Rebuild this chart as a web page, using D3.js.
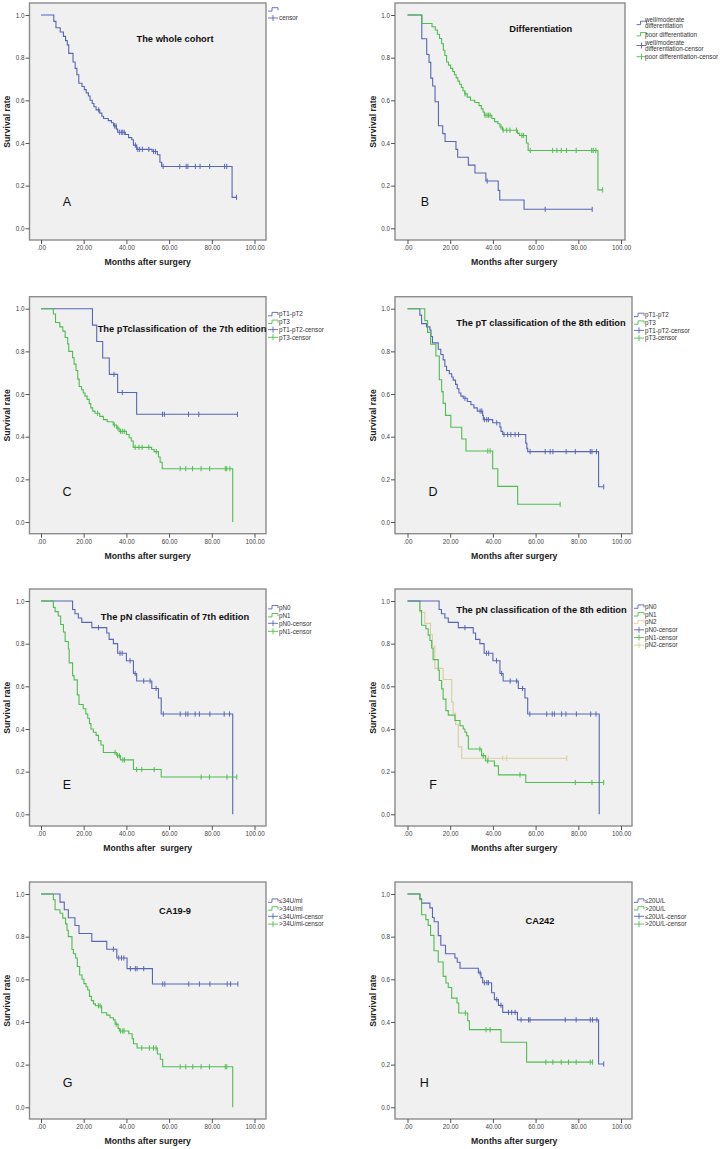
<!DOCTYPE html>
<html><head><meta charset="utf-8">
<script src="https://cdn.jsdelivr.net/npm/d3@7"></script>
<style>
body{margin:0;background:#fff}
svg{display:block}
text{font-family:"Liberation Sans",Arial,sans-serif}
</style>
</head><body>
<svg id="chart" width="721" height="1149"></svg>
<script>
// ---------- axis ticks ----------
const monthTicks = [0, 20, 40, 60, 80, 100];
const monthTickLabels = ['.00', '20.00', '40.00', '60.00', '80.00', '100.00'];
const rateTicks = [0, 0.2, 0.4, 0.6, 0.8, 1.0];
const rateTickLabels = ['0.0', '0.2', '0.4', '0.6', '0.8', '1.0'];

// ---------- panel texts ----------
const panelTitles = ['The whole cohort', 'Differentiation', 'The pTclassification of  the 7th edition',
  'The pT classification of the 8th edition', 'The pN classificatin of 7th edition',
  'The pN classification of the 8th edition', 'CA19-9', 'CA242'];
const panelLetters = ['A', 'B', 'C', 'D', 'E', 'F', 'G', 'H'];
const xTitles = ['Months after surgery', 'Months after surgery', 'Months after surgery', 'Months after surgery',
  'Months after  surgery', 'Months after surgery', 'Months after surgery', 'Months after surgery'];
const yTitle = 'Survival rate';

// ---------- data: steps = [month, survival after drop], censors = months ----------
// A whole cohort
const wholeSteps = [[6,0.97],[7,0.94],[9,0.92],[10.5,0.90],[11.5,0.88],[12.3,0.86],[13,0.82],[15,0.78],[16,0.75],[16.8,0.72],[17.7,0.68],[19.2,0.665],[20.3,0.65],[21.2,0.635],[22.2,0.62],[23,0.60],[24,0.585],[24.8,0.57],[25.8,0.555],[27.5,0.54],[28.5,0.525],[29.3,0.515],[31.5,0.505],[33,0.495],[34,0.48],[35.3,0.465],[35.9,0.45],[39.5,0.44],[41,0.425],[42.5,0.415],[43.3,0.39],[44.8,0.37],[52,0.36],[54.5,0.345],[55.7,0.31],[56.5,0.29],[89.5,0.145]];
const wholeCensors = [27,34.5,35.2,36.7,37.6,38.3,39,44.2,45.3,46.2,47.5,50.5,52.7,53.6,57.2,65,68,68.8,72.3,74.5,79,86,87,91.6];
// B differentiation
const diffWellSteps = [[6.7,0.889],[9,0.815],[10.1,0.778],[10.9,0.704],[11.8,0.667],[12.9,0.593],[14.5,0.481],[16.5,0.444],[17.6,0.407],[22.7,0.370],[23.5,0.333],[28.5,0.296],[31.6,0.259],[36.7,0.222],[42.5,0.178],[43.2,0.133],[54.6,0.089]];
const diffWellCensors = [37.3,64.5,86.5];
const diffPoorSteps = [[6.7,0.96],[11.5,0.945],[13,0.93],[14,0.91],[15,0.89],[16,0.865],[16.8,0.835],[17.5,0.81],[18.3,0.78],[19.2,0.765],[20.2,0.75],[21.2,0.735],[22,0.72],[22.8,0.705],[23.6,0.69],[24.4,0.675],[25.2,0.66],[26,0.645],[26.8,0.63],[28,0.615],[29.5,0.60],[31.5,0.59],[33.5,0.575],[34.6,0.56],[35.4,0.545],[36,0.53],[39.5,0.515],[40.8,0.50],[42.3,0.49],[43.3,0.475],[44.5,0.46],[51.5,0.445],[52.5,0.435],[55.7,0.40],[56.5,0.365],[89.2,0.18]];
const diffPoorCensors = [27,36.3,37.2,37.9,38.7,43.8,44.8,46.5,48,51,53.5,54.3,57.5,68,70,72,74.5,79,86.3,87,88.2,91.4];
// C pT 7th
const pT7lowSteps = [[24.1,0.923],[26.1,0.846],[28.9,0.769],[32,0.692],[35.9,0.607],[44.8,0.505]];
const pT7lowCensors = [34.2,38.1,56.9,57.8,69.1,73.9,92];
const pT7highSteps = [[5.8,0.975],[6.8,0.935],[8.8,0.915],[10.2,0.895],[11.3,0.865],[12.5,0.835],[13,0.80],[14.8,0.77],[15.5,0.74],[16.4,0.71],[17.2,0.67],[17.9,0.635],[19,0.62],[19.8,0.605],[20.6,0.59],[21.6,0.575],[22.6,0.555],[23.3,0.535],[24.2,0.52],[25.3,0.51],[27.5,0.495],[29.2,0.48],[31,0.47],[33.8,0.455],[35.4,0.44],[36.6,0.425],[40,0.41],[41.3,0.395],[42.3,0.38],[43.2,0.35],[51.8,0.34],[53,0.33],[55,0.305],[55.8,0.28],[56.8,0.25],[89.8,0]];
const pT7highCensors = [26.5,34.4,36,37.2,38.1,39,44.1,45.9,47.4,50.5,54,65.2,67.8,71,75,79,86.3,87,88.5];
// D pT 8th
const pT8lowSteps = [[5.8,0.97],[6.6,0.93],[8.9,0.915],[10.5,0.90],[11,0.87],[11.7,0.84],[14.4,0.81],[15.6,0.785],[16.7,0.76],[17.5,0.73],[18.3,0.71],[19.6,0.695],[20.7,0.68],[21.4,0.665],[22.5,0.645],[23.3,0.625],[24.1,0.605],[25,0.59],[26.1,0.58],[28,0.565],[29.7,0.55],[31.1,0.535],[32.7,0.52],[35.2,0.50],[35.5,0.48],[39.9,0.465],[43.3,0.445],[43.8,0.425],[44.6,0.41],[55.4,0.37],[55.9,0.345],[56.3,0.33],[89.5,0.165]];
const pT8lowCensors = [26.9,34,34.8,36,37.1,37.9,41.8,45.2,46.9,48.4,50.4,52,57.4,64.5,66.8,68.1,74.3,78.6,85.6,86.4,88.5,91.9];
const pT8highSteps = [[8.1,0.944],[9.4,0.889],[10.8,0.833],[13.3,0.778],[14.9,0.667],[16,0.611],[16.7,0.556],[17.8,0.50],[20.3,0.444],[25.4,0.389],[27.4,0.333],[39.9,0.25],[42.3,0.167],[51.6,0.083]];
const pT8highCensors = [37.6,38.7,71.5];
// E / F pN
const pN0Steps = [[14.8,0.96],[15.9,0.94],[17.5,0.92],[19.1,0.90],[23.8,0.875],[30.8,0.85],[31.9,0.82],[33.9,0.80],[35.9,0.755],[40,0.72],[43.3,0.66],[44.8,0.625],[51.9,0.59],[55,0.545],[56.3,0.47],[89.8,0]];
const pN0Censors = [26.9,37,38,41.7,44.1,48.1,51.1,53.9,57.3,65.2,67.8,68.8,72.2,74.2,79.1,85.8,88.3];
const pN1of7Steps = [[5.8,0.97],[6.6,0.95],[8.1,0.93],[9.2,0.89],[10.5,0.855],[11.3,0.81],[12.8,0.775],[13.2,0.71],[14.8,0.65],[15.5,0.63],[17,0.56],[17.8,0.515],[19.8,0.495],[21,0.47],[21.9,0.45],[22.7,0.425],[23.4,0.40],[24.5,0.385],[25.8,0.37],[26.9,0.345],[28.1,0.325],[29.2,0.29],[35.5,0.275],[37.2,0.255],[43.3,0.21],[56.3,0.175]];
const pN1of7Censors = [34.7,35.9,36.7,38.3,39.1,44.8,47.2,53,75,78.9,87.1,91.7];
const pN1of8Steps = [[5.8,0.955],[6.6,0.886],[8.6,0.87],[9.7,0.84],[10.5,0.815],[11.3,0.78],[12,0.725],[14.4,0.675],[14.9,0.627],[16,0.588],[16.7,0.54],[18,0.486],[19.1,0.465],[22.2,0.44],[24.6,0.415],[26.1,0.40],[26.9,0.385],[27.7,0.368],[28.5,0.306],[34.7,0.275],[36.6,0.25],[40.7,0.227],[42.6,0.185],[55.4,0.149]];
const pN1of8Censors = [33.9,35.5,37.6,52.7,78.6,86.4,91.9];
const pN2Steps = [[5.8,0.947],[8.1,0.895],[10.8,0.842],[11.7,0.789],[12.8,0.684],[16.7,0.632],[20.7,0.526],[21.4,0.474],[22.5,0.421],[23.8,0.316],[25.4,0.263]];
const pN2Censors = [37.9,44.6,46.5,74.6];
// G CA19-9
const ca199lowSteps = [[8.9,0.962],[10.9,0.926],[12.8,0.889],[15.9,0.852],[17.8,0.815],[23.8,0.778],[30.8,0.741],[35.5,0.70],[40.3,0.65],[52.2,0.578]];
const ca199lowCensors = [33.9,36.4,37.7,38.8,41.9,44.2,45,48.1,57,58,69.2,74.2,79.1,87.2,88.8,92.2];
const ca199highSteps = [[5.8,0.973],[6.6,0.926],[8.9,0.91],[10.2,0.887],[11.5,0.86],[12.2,0.83],[12.8,0.80],[14.5,0.74],[15.2,0.72],[16.2,0.70],[17,0.66],[18.1,0.62],[19.2,0.60],[20.1,0.58],[21.1,0.565],[21.9,0.55],[22.7,0.52],[23.6,0.50],[24.6,0.485],[25.5,0.476],[28.4,0.443],[30.8,0.432],[32.3,0.42],[33.9,0.41],[34.7,0.39],[36.1,0.37],[36.7,0.358],[41.1,0.345],[42.7,0.322],[43.3,0.298],[45,0.278],[54.5,0.25],[55.9,0.225],[57,0.19],[89.8,0]];
const ca199highCensors = [26.9,27.7,35.2,37.3,38.3,38.9,47.2,50.8,52.7,53.9,65.2,67.8,71.1,75,78.9,86.3,87];
// H CA242
const ca242lowSteps = [[5.8,0.977],[6.6,0.957],[10.5,0.935],[11.7,0.89],[12.5,0.87],[14.4,0.805],[15.6,0.76],[17.8,0.72],[22.2,0.70],[23.3,0.68],[24.6,0.652],[33.2,0.63],[34.4,0.608],[35.2,0.584],[39.4,0.537],[40.7,0.505],[42.6,0.478],[44.6,0.445],[51.5,0.41],[89.5,0.203]];
const ca242lowCensors = [34,36,37.2,37.9,41.8,43.8,47.3,48.8,50.4,53.2,56.7,57.4,73.9,79,85.6,86.7,88.7,91.9];
const ca242highSteps = [[5.8,0.973],[6.6,0.903],[8.6,0.88],[9.7,0.853],[10.8,0.806],[12.4,0.734],[14.4,0.681],[16.7,0.614],[18,0.583],[19.1,0.562],[20.7,0.512],[23.2,0.489],[24,0.442],[28.2,0.406],[29,0.364],[43.8,0.305],[55.8,0.212]];
const ca242highCensors = [27.1,36.8,38.7,64.8,68.1,72,75.4,79,85.6,86.7];

// ---------- legend labels ----------
const legendA = [[''], ['censor']];
const legendB = [['well/moderate','differentiation'], ['poor differentiation'], ['well/moderate','differentiation-censor'], ['poor differentiation-censor']];
const legendC = [['pT1-pT2'], ['pT3'], ['pT1-pT2-censor'], ['pT3-censor']];
const legendE = [['pN0'], ['pN1'], ['pN0-censor'], ['pN1-censor']];
const legendF = [['pN0'], ['pN1'], ['pN2'], ['pN0-censor'], ['pN1-censor'], ['pN2-censor']];
const legendG = [['≤34U/ml'], ['>34U/ml'], ['≤34U/ml-censor'], ['>34U/ml-censor']];
const legendH = [['≤20U/L'], ['>20U/L'], ['≤20U/L-censor'], ['>20U/L-censor']];

// ---------- styling / layout ----------
const BLUE = '#5766b6', GREEN = '#4fbd50', TAN = '#dccd9e';
const LEFT = {bx0: 29.5, bx1: 266, x0: 41, x1: 254.5, yt: 7, icon: 268, txt: 279};
const RIGHT = {bx0: 395, bx1: 632, x0: 407.5, x1: 621, yt: 373, icon: 634, txt: 645};
const rowTop = [3, 296.7, 589, 882];

const panels = [
  {col: LEFT, row: 0, tp: [175, 42.3], lp: [67, 205.5],
   series: [{s: wholeSteps, c: wholeCensors, col: BLUE}],
   legend: {lab: legendA, types: ['step','censor'], cols: [BLUE, BLUE], y0: 6.5, dy: 8.5}},
  {col: Object.assign({}, RIGHT, {bx1: 625, icon: 636.5}), row: 0, tp: [540.8, 32.3], lp: [425, 205.5],
   series: [{s: diffWellSteps, c: diffWellCensors, col: BLUE}, {s: diffPoorSteps, c: diffPoorCensors, col: GREEN}],
   legend: {lab: legendB, types: ['step','step','censor','censor'], cols: [BLUE, GREEN, BLUE, GREEN], ys: [23, 34.3, 45.5, 56.7]}},
  {col: LEFT, row: 1, tp: [182, 331.5], lp: [67, 496],
   series: [{s: pT7lowSteps, c: pT7lowCensors, col: BLUE}, {s: pT7highSteps, c: pT7highCensors, col: GREEN}],
   legend: {lab: legendC, types: ['step','step','censor','censor'], cols: [BLUE, GREEN, BLUE, GREEN], y0: 17.5, dy: 7.7}},
  {col: RIGHT, row: 1, tp: [541, 326], lp: [433, 496],
   series: [{s: pT8lowSteps, c: pT8lowCensors, col: BLUE}, {s: pT8highSteps, c: pT8highCensors, col: GREEN}],
   legend: {lab: legendC, types: ['step','step','censor','censor'], cols: [BLUE, GREEN, BLUE, GREEN], y0: 18.3, dy: 7.7}},
  {col: LEFT, row: 2, tp: [175, 620], lp: [67, 788.6],
   series: [{s: pN0Steps, c: pN0Censors, col: BLUE}, {s: pN1of7Steps, c: pN1of7Censors, col: GREEN}],
   legend: {lab: legendE, types: ['step','step','censor','censor'], cols: [BLUE, GREEN, BLUE, GREEN], y0: 18.3, dy: 8}},
  {col: RIGHT, row: 2, tp: [541.5, 613.3], lp: [433, 788.6],
   series: [{s: pN2Steps, c: pN2Censors, col: TAN}, {s: pN1of8Steps, c: pN1of8Censors, col: GREEN}, {s: pN0Steps, c: pN0Censors, col: BLUE}],
   legend: {lab: legendF, types: ['step','step','step','censor','censor','censor'], cols: [BLUE, GREEN, TAN, BLUE, GREEN, TAN], y0: 17.7, dy: 7.7}},
  {col: LEFT, row: 3, tp: [175, 914], lp: [67.7, 1087],
   series: [{s: ca199lowSteps, c: ca199lowCensors, col: BLUE}, {s: ca199highSteps, c: ca199highCensors, col: GREEN}],
   legend: {lab: legendG, types: ['step','step','censor','censor'], cols: [BLUE, GREEN, BLUE, GREEN], y0: 18.7, dy: 7.8}},
  {col: RIGHT, row: 3, tp: [540, 924.3], lp: [424.3, 1087],
   series: [{s: ca242lowSteps, c: ca242lowCensors, col: BLUE}, {s: ca242highSteps, c: ca242highCensors, col: GREEN}],
   legend: {lab: legendH, types: ['step','step','censor','censor'], cols: [BLUE, GREEN, BLUE, GREEN], y0: 18.7, dy: 7.8}}
];

const svg = d3.select('#chart');

function survAt(steps, t) {
  let v = 1;
  for (const [st, sv] of steps) { if (st <= t) v = sv; }
  return v;
}

panels.forEach((p, i) => {
  const C = p.col;
  const T = rowTop[p.row];
  const yTop1 = T + 12, yZero = T + 225.3, bottom = T + 237;
  const x = d3.scaleLinear().domain([0, 100]).range([C.x0, C.x1]);
  const y = d3.scaleLinear().domain([0, 1]).range([yZero, yTop1]);
  const g = svg.append('g');

  g.append('rect').attr('x', C.bx0).attr('y', T).attr('width', C.bx1 - C.bx0).attr('height', bottom - T)
    .attr('fill', '#f0f0f0').attr('stroke', '#8c8c8c').attr('stroke-width', 1.4);

  const ya = g.append('g').attr('transform', `translate(${C.bx0},0)`)
    .call(d3.axisLeft(y).tickValues(rateTicks).tickFormat((d, k) => rateTickLabels[k]).tickSize(4).tickPadding(1));
  const xa = g.append('g').attr('transform', `translate(0,${bottom})`)
    .call(d3.axisBottom(x).tickValues(monthTicks).tickFormat((d, k) => monthTickLabels[k]).tickSize(4).tickPadding(2));
  [ya, xa].forEach(a => {
    a.select('.domain').remove();
    a.selectAll('line').attr('stroke', '#555');
    a.selectAll('text').attr('font-size', 6.3).attr('fill', '#444')
      .attr('font-family', '"Liberation Sans",Arial,sans-serif');
  });

  // titles
  g.append('text').attr('x', (C.x0 + C.x1) / 2).attr('y', bottom + 25).attr('text-anchor', 'middle')
    .attr('font-size', 8.7).attr('font-weight', 'bold').attr('fill', '#222').style('white-space', 'pre').text(xTitles[i]);
  g.append('text').attr('transform', `translate(${C.yt + 3},${(yTop1 + yZero) / 2}) rotate(-90)`).attr('text-anchor', 'middle')
    .attr('font-size', 8.7).attr('font-weight', 'bold').attr('fill', '#222').text(yTitle);
  g.append('text').attr('x', p.tp[0]).attr('y', p.tp[1]).attr('text-anchor', 'middle')
    .attr('font-size', 9.3).attr('font-weight', 'bold').attr('fill', '#111').style('white-space', 'pre').text(panelTitles[i]);
  g.append('text').attr('x', p.lp[0]).attr('y', p.lp[1]).attr('text-anchor', 'middle')
    .attr('font-size', 12.5).attr('font-family', '"Open Sans",sans-serif').attr('fill', '#111').text(panelLetters[i]);

  // curves
  const line = d3.line().x(d => x(d[0])).y(d => y(d[1])).curve(d3.curveStepAfter);
  p.series.forEach(se => {
    const last = se.s[se.s.length - 1];
    const endT = Math.max(last[0], d3.max(se.c) || 0);
    const pts = [[0, 1], ...se.s, [endT, last[1]]];
    g.append('path').attr('d', line(pts)).attr('fill', 'none').attr('stroke', se.col).attr('stroke-width', 1.1);
    g.selectAll(null).data(se.c).join('path')
      .attr('d', t => `M${x(t)},${y(survAt(se.s, t)) - 2.6}V${y(survAt(se.s, t)) + 2.6}`)
      .attr('stroke', se.col).attr('stroke-width', 1);
  });

  // legend
  const L = p.legend;
  L.lab.forEach((lab, k) => {
    const yy = T + (L.ys ? L.ys[k] - 3 : L.y0 + k * L.dy);
    const col = L.cols[k];
    const ix = C.icon;
    if (L.types[k] === 'step') {
      g.append('path').attr('d', `M${ix},${yy + 1.6}H${ix + 4}V${yy - 1.8}H${ix + 10}V${yy + 0.8}`)
        .attr('fill', 'none').attr('stroke', col).attr('stroke-width', 0.9);
    } else {
      g.append('path').attr('d', `M${ix},${yy}H${ix + 10}M${ix + 5},${yy - 3}V${yy + 3}`)
        .attr('fill', 'none').attr('stroke', col).attr('stroke-width', 0.9);
    }
    lab.forEach((ln, j) => {
      const off = (j - (lab.length - 1) / 2) * 5.6;
      g.append('text').attr('x', C.txt).attr('y', yy + off + 2.2).attr('font-size', 6.3).attr('fill', '#333').text(ln);
    });
  });
});
</script>
</body></html>
